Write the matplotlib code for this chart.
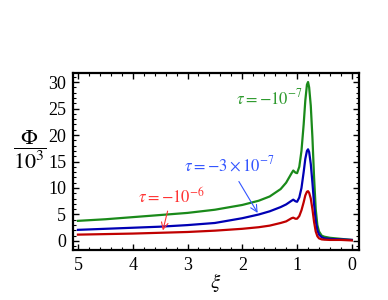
import matplotlib
matplotlib.use("Agg")
import matplotlib.pyplot as plt
from matplotlib.ticker import MultipleLocator

plt.rcParams['font.family'] = ['Liberation Serif', 'DejaVu Serif']
plt.rcParams['mathtext.fontset'] = 'stix'

xi = [5.0, 4.5, 4.0, 3.5, 3.0, 2.5, 2.0, 1.7, 1.5, 1.3, 1.2, 1.1, 1.07, 1.03, 1.0, 0.96,
      0.92, 0.88, 0.85, 0.82, 0.8, 0.78, 0.75, 0.72, 0.69, 0.66, 0.63, 0.6, 0.55, 0.5,
      0.4, 0.3, 0.2, 0.1, 0.0]
phi_green = [3.8, 4.1, 4.5, 4.9, 5.3, 5.9, 6.8, 7.6, 8.4, 9.8, 11.0, 12.8, 13.3, 12.9, 12.8, 14.0,
             17.0, 22.0, 26.5, 29.5, 30.0, 29.0, 25.5, 19.5, 12.0, 6.0, 3.0, 1.8, 1.0, 0.8,
             0.6, 0.5, 0.4, 0.3, 0.2]
phi_blue = [2.1, 2.3, 2.5, 2.7, 3.0, 3.4, 4.3, 5.0, 5.6, 6.4, 6.9, 7.6, 7.8, 7.5, 7.4, 8.2,
            10.0, 13.0, 15.5, 17.0, 17.3, 16.8, 14.5, 11.0, 7.0, 3.8, 2.0, 1.2, 0.7, 0.5,
            0.4, 0.35, 0.3, 0.25, 0.2]
phi_red = [1.2, 1.3, 1.4, 1.55, 1.7, 1.95, 2.3, 2.6, 2.9, 3.4, 3.7, 4.3, 4.4, 4.2, 4.2, 4.7,
           5.8, 7.3, 8.6, 9.3, 9.4, 9.1, 8.0, 6.0, 3.6, 1.8, 0.9, 0.5, 0.3, 0.25,
           0.2, 0.2, 0.2, 0.15, 0.1]

labels = [r'$\tau = -10^{-7}$', r'$\tau = -3\times10^{-7}$', r'$\tau = -10^{-6}$']

fig = plt.figure(figsize=(3.88, 3.0), dpi=100)
ax = fig.add_axes([73/388, 50/300, 286/388, 177/300])

c_g, c_b, c_r = '#1a8a1a', '#0000b4', '#c00000'
ax.plot(xi, phi_green, color=c_g, lw=1.6)
ax.plot(xi, phi_blue, color=c_b, lw=1.6)
ax.plot(xi, phi_red, color=c_r, lw=1.6)

ax.set_xlim(5.09, -0.13)
ax.set_ylim(-1.7, 31.7)
ax.xaxis.set_major_locator(MultipleLocator(1))
ax.xaxis.set_minor_locator(MultipleLocator(0.2))
ax.yaxis.set_major_locator(MultipleLocator(5))
ax.yaxis.set_minor_locator(MultipleLocator(1))
ax.tick_params(which='both', direction='in', top=True, right=True, labelsize=13)
ax.tick_params(which='major', length=4, width=1, pad=5)
ax.tick_params(which='minor', length=2, width=0.8)
for s in ax.spines.values():
    s.set_linewidth(1.6)

ax.set_xlabel(r'$\xi$', fontsize=15, labelpad=-2)
fig.text(30/388, 150/300, r'$\dfrac{\Phi}{10^3}$', fontsize=16, ha='center', va='center')

ax.text(1.51, 27.0, labels[0], color='#2e9a2e', fontsize=12, ha='center', va='center')
ax.annotate(labels[1], xy=(1.72, 5.3), xytext=(2.24, 14.3), color='#3355ff', fontsize=12,
            ha='center', va='center',
            arrowprops=dict(arrowstyle='->', color='#3355ff', lw=0.8, shrinkA=3, shrinkB=0))
ax.annotate(labels[2], xy=(3.45, 2.0), xytext=(3.3, 8.3), color='#ff3333', fontsize=12,
            ha='center', va='center',
            arrowprops=dict(arrowstyle='->', color='#ff3333', lw=0.8, shrinkA=1, shrinkB=0))

fig.savefig('out.png', dpi=100)
